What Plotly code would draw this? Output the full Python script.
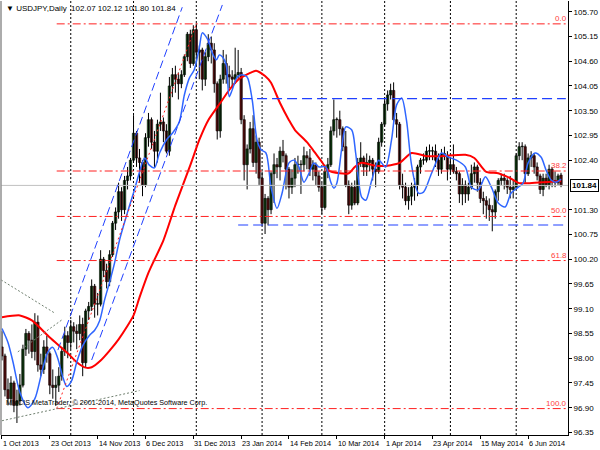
import plotly.graph_objects as go

# ---------------- data ----------------
opens = [98.25,98.05,97.30,97.10,97.45,96.95,97.05,97.40,98.20,98.55,98.40,98.15,98.80,97.85,97.75,98.25,98.10,97.40,97.35,97.40,
         97.60,98.15,98.50,98.35,98.70,98.60,98.55,98.75,97.90,99.05,99.15,99.60,99.20,99.20,100.20,99.95,99.70,100.30,101.00,101.25,
         101.70,101.30,101.95,102.05,102.40,103.00,102.45,102.35,101.85,102.90,103.30,102.80,102.60,103.20,103.25,103.05,102.60,104.05,104.30,104.20,
         104.10,104.30,104.70,105.20,104.55,105.30,104.80,104.85,104.20,104.70,105.00,104.85,104.10,103.05,104.20,104.55,104.30,104.25,104.20,104.30,
         104.35,103.30,102.30,102.65,103.10,102.35,102.80,102.00,101.00,101.55,101.30,102.10,102.30,102.25,102.60,102.50,102.20,101.80,102.00,102.30,
         102.30,102.30,102.50,102.45,102.20,102.30,102.05,101.80,101.35,102.15,102.30,103.05,103.30,103.30,103.10,102.70,101.85,101.40,101.80,101.45,
         102.35,102.45,102.25,102.35,102.40,102.20,102.15,102.80,103.20,103.65,103.85,103.95,103.30,103.20,101.85,101.80,101.50,101.60,101.80,101.85,
         102.25,102.40,102.40,102.60,102.60,102.60,102.40,102.20,102.55,102.50,102.20,102.30,102.15,102.10,101.65,101.85,101.65,101.80,102.10,102.25,
         101.90,101.55,101.50,101.40,101.30,101.25,101.70,101.95,102.00,101.95,101.80,101.75,101.80,102.50,102.70,102.70,102.10,102.45,102.50,102.25,
         102.05,101.75,102.00,101.85,102.20,101.95,101.90,102.07]
highs = [98.60,98.10,97.55,97.60,97.50,97.30,97.65,98.30,98.65,98.60,98.75,99.00,98.95,98.10,98.40,98.50,98.15,97.75,97.60,97.80,
         98.25,98.70,98.60,98.85,98.80,98.75,98.95,98.90,99.10,99.25,99.75,99.65,99.45,100.40,100.25,100.10,100.40,101.05,101.35,101.90,
         101.80,102.05,102.25,102.45,103.40,103.05,102.65,102.40,103.00,103.45,103.35,103.05,103.30,103.90,103.35,103.20,104.25,104.45,104.50,104.35,
         104.40,104.75,105.25,105.30,105.40,105.44,104.95,104.90,104.80,105.20,105.15,105.00,104.15,104.30,104.85,104.75,104.50,104.40,104.90,104.85,
         104.45,103.40,102.75,103.25,103.40,102.95,102.90,102.15,101.65,101.60,102.15,102.55,102.45,102.70,102.85,102.55,102.25,102.20,102.45,102.50,
         102.40,102.70,102.60,102.65,102.40,102.35,102.15,101.90,102.30,102.45,103.15,103.75,103.35,103.50,103.15,103.05,101.95,101.90,101.95,102.45,
         102.80,102.50,102.55,102.50,102.45,102.35,102.90,103.25,103.80,103.95,104.10,104.13,103.45,103.25,102.10,101.90,101.80,101.90,102.00,102.30,
         102.45,102.55,102.70,102.75,102.70,102.75,102.55,102.65,102.70,102.60,102.45,102.75,102.25,102.15,102.00,101.95,101.90,102.30,102.35,102.30,
         102.00,101.70,101.60,101.55,101.40,101.75,102.00,102.10,102.10,102.00,102.05,101.95,102.55,102.80,102.80,102.75,102.55,102.60,102.55,102.35,
         102.10,102.10,102.10,102.30,102.25,102.15,102.10,102.12]
lows = [97.95,97.15,96.95,96.95,96.80,96.56,96.95,97.35,98.05,98.10,98.00,97.95,97.70,97.60,97.65,97.90,97.20,97.10,96.94,97.25,
        97.50,98.05,98.00,98.20,98.35,98.20,98.40,97.60,97.80,98.85,99.05,98.90,98.95,99.15,99.80,99.55,99.60,100.25,100.85,101.10,
        101.05,101.20,101.75,101.95,102.35,102.25,101.90,101.60,101.80,102.70,102.65,102.25,102.35,103.05,102.80,102.55,102.50,103.80,103.90,103.75,
        104.00,104.25,104.60,104.45,104.50,104.50,104.20,103.95,104.05,104.60,104.55,103.90,102.86,102.90,104.10,104.10,104.00,104.00,104.10,104.20,
        103.20,101.95,101.75,102.55,102.25,102.10,101.85,100.95,100.76,100.95,101.20,101.45,102.00,101.95,102.35,101.75,101.55,101.65,101.80,102.10,
        101.65,102.15,102.20,102.05,101.95,101.85,101.70,101.20,101.30,102.00,102.25,102.95,102.90,102.95,102.60,101.80,101.20,101.30,101.40,101.40,
        102.25,102.05,102.05,102.15,101.95,101.80,102.10,102.70,103.15,103.50,103.75,103.25,102.90,101.75,101.55,101.40,101.30,101.40,101.50,101.60,
        102.10,102.30,102.35,102.40,102.40,102.25,102.05,102.10,102.40,101.95,102.10,102.10,101.95,101.45,101.40,101.45,101.50,101.75,101.90,101.70,
        101.45,101.20,101.10,101.05,100.82,101.10,101.50,101.85,101.75,101.65,101.55,101.55,101.75,102.40,102.40,101.90,102.05,102.25,102.10,101.95,
        101.65,101.60,101.80,101.75,101.80,101.80,101.85,101.80]
closes = [98.05,97.30,97.10,97.45,96.95,97.05,97.40,98.20,98.55,98.40,98.15,98.80,97.85,97.75,98.25,98.10,97.40,97.35,97.40,97.60,
          98.15,98.50,98.35,98.70,98.60,98.55,98.75,97.90,99.05,99.15,99.60,99.20,99.20,100.20,99.95,99.70,100.30,101.00,101.25,101.70,
          101.30,101.95,102.05,102.40,103.00,102.45,102.35,101.85,102.90,103.30,102.80,102.60,103.20,103.25,103.05,102.60,104.05,104.30,104.20,104.10,
          104.30,104.70,105.20,104.55,105.30,104.80,104.85,104.20,104.70,105.00,104.85,104.10,103.05,104.20,104.55,104.30,104.25,104.20,104.30,104.35,
          103.30,102.30,102.65,103.10,102.35,102.80,102.00,101.00,101.55,101.30,102.10,102.30,102.25,102.60,102.50,102.20,101.80,102.00,102.30,102.30,
          102.30,102.50,102.45,102.20,102.30,102.05,101.80,101.35,102.15,102.30,103.05,103.30,103.30,103.10,102.70,101.85,101.40,101.80,101.45,102.35,
          102.45,102.25,102.35,102.40,102.20,102.15,102.80,103.20,103.65,103.85,103.95,103.30,103.20,101.85,101.80,101.50,101.60,101.80,101.85,102.25,
          102.40,102.40,102.60,102.60,102.60,102.40,102.20,102.55,102.50,102.20,102.30,102.15,102.10,101.65,101.85,101.65,101.80,102.10,102.25,101.90,
          101.55,101.50,101.40,101.30,101.25,101.70,101.95,102.00,101.95,101.80,101.75,101.80,102.50,102.70,102.70,102.10,102.45,102.50,102.25,102.05,
          101.75,102.00,101.85,102.20,101.95,101.90,102.05,101.84]

# slow (red) moving average, read at bar positions
red_idx = [0,6,10,16,22,25,28,30,33,36,39,42,44,46,49,54,58,63,66,69,73,76,79,83,85,88,90,93,96,98,102,104,107,109,113,
           116,118,120,124,127,130,133,137,142,147,155,158,162,166,170,173,176,187]
red_val = [98.91,98.95,98.84,98.46,98.11,97.91,97.79,97.80,97.95,98.17,98.42,98.72,98.95,99.35,99.90,100.62,101.40,102.29,
           102.85,103.29,103.67,103.96,104.19,104.34,104.39,104.27,104.12,103.67,103.29,103.07,102.80,102.63,102.36,102.18,
           102.11,102.11,102.25,102.34,102.29,102.27,102.29,102.34,102.56,102.49,102.49,102.52,102.45,102.14,102.11,102.00,
           101.89,101.89,101.94]

# fast (blue) moving average, read at bar positions
blue_idx = [0,2,3.7,6,8.7,11,13.3,15.3,17,18.7,20.3,21.7,23.3,25,27,29.3,31,32.7,34.3,36,37.7,39.3,41,42.7,44.3,46,47.7,
            49.3,51,52.7,55,57,59.3,61,62.7,64.3,66,67,68.3,69.3,70.3,71.7,72.7,73.7,75,76,77,78.7,80.3,82,83.7,85.3,86.7,
            88.3,90,92,93.7,96,97.7,99.3,101,102.7,104.3,106,108.3,110,111,112,113.7,115,117,118.3,120.3,121.7,123.7,126,
            128.3,130.3,132,133.7,135.3,137,139.3,141,143.7,147,149.3,152,155,157,159.3,161.7,163.7,166,168.3,170.3,172.7,
            174.3,176,178.3,180.3,182,183.7,185.3,187]
blue_val = [98.66,98.35,97.91,97.24,96.90,97.10,97.68,98.13,98.24,97.99,97.59,97.37,97.50,97.91,98.28,98.51,98.62,98.84,
            99.29,99.69,100.13,100.62,101.02,101.40,101.74,102.14,102.45,102.29,102.23,102.56,102.85,103.00,103.25,103.85,
            104.23,104.41,104.90,105.23,105.14,105.01,104.79,104.63,104.74,104.70,104.52,103.81,103.96,104.25,104.30,104.25,
            103.74,102.85,102.63,102.56,101.80,101.33,101.67,102.34,102.40,102.25,101.91,102.11,102.34,102.25,102.25,101.91,
            101.78,101.89,102.69,103.14,103.07,102.56,101.58,101.51,101.96,102.40,102.25,102.85,103.63,103.78,103.29,102.29,
            101.67,101.69,102.11,102.56,102.47,102.40,102.25,101.80,101.74,102.03,101.80,101.45,101.36,101.67,101.80,101.89,
            102.34,102.56,102.47,102.18,101.96,101.91,101.98]

# x-axis labels (bar index of each label)
label_idx = [0,16,32,48,64,80,96,112,128,144,160,176]
label_txt = ["1 Oct 2013","23 Oct 2013","14 Nov 2013","6 Dec 2013","31 Dec 2013","23 Jan 2014",
             "14 Feb 2014","10 Mar 2014","1 Apr 2014","23 Apr 2014","15 May 2014","6 Jun 2014"]
# month separators (bar index)
grid_idx = [23,44,65,87,107,128,150,172]

# right price scale
ytick_vals = [105.70,105.15,104.60,104.05,103.50,102.95,102.40,101.30,100.75,100.20,99.65,99.10,98.55,98.00,97.45,96.90,96.35]
ytick_txt = ["105.70","105.15","104.60","104.05","103.50","102.95","102.40","101.30","100.75","100.20",
             "99.65","99.10","98.55","98.00","97.45","96.90","96.35"]
last_price = 101.84

# Fibonacci retracement
fib_start_idx = 18.3
fib_end_idx = 65
fib_prices = [105.43,102.16,101.15,100.17,96.88]
fib_labels = ["0.0","38.2","50.0","61.8","100.0"]

# horizontal blue levels: (start bar, price)
hlevel_start = [80.3,79.0]
hlevel_price = [103.77,100.96]

# blue channel lines: (x0, y0, x1, y1)
chan_lines = [(18.7,98.18,60.3,105.80),
              (30.0,97.96,73.7,105.85)]

# gray dotted lines (x0, y0, x1, y1)
gray_lines = [(-0.3,99.74,17.7,99.00),
              (0.0,96.61,46.0,97.28),
              (5.3,98.14,20.0,98.85)]

X0, X1 = -0.33, 189.33
Y0, Y1 = 96.293, 105.938

fig = go.Figure()

# candles: wicks then bodies
idx = list(range(len(opens)))
wx, wy = [], []
for i, h, l in zip(idx, highs, lows):
    wx += [i, i, None]
    wy += [l, h, None]
fig.add_trace(go.Scatter(x=wx, y=wy, mode="lines", line=dict(color="#000000", width=1),
                         hoverinfo="skip", showlegend=False))
body_base = [min(o, c) for o, c in zip(opens, closes)]
body_h = [max(abs(c - o), 0.012) for o, c in zip(opens, closes)]
body_col = ["#1e6b1e" if c >= o else "#a01c1c" for o, c in zip(opens, closes)]
fig.add_trace(go.Bar(x=idx, y=body_h, base=body_base, width=0.8,
                     marker=dict(color=body_col, line=dict(color="#000000", width=0.6)),
                     hoverinfo="skip", showlegend=False))

fig.add_trace(go.Scatter(x=red_idx, y=red_val, mode="lines",
                         line=dict(color="#ff0000", width=2, shape="spline", smoothing=0.6),
                         hoverinfo="skip", showlegend=False))
fig.add_trace(go.Scatter(x=blue_idx, y=blue_val, mode="lines",
                         line=dict(color="#2f66ff", width=1.5, shape="spline", smoothing=0.8),
                         hoverinfo="skip", showlegend=False))

# current price line
fig.add_trace(go.Scatter(x=[X0, X1], y=[last_price, last_price], mode="lines",
                         line=dict(color="#c0c0c0", width=1), hoverinfo="skip", showlegend=False))

# fibo lines
for p in fib_prices:
    fig.add_trace(go.Scatter(x=[fib_start_idx, 188.6], y=[p, p], mode="lines",
                             line=dict(color="#ff2020", width=1, dash="8px,3px,2px,3px"),
                             hoverinfo="skip", showlegend=False))
fig.add_trace(go.Scatter(x=[fib_start_idx, fib_end_idx], y=[fib_prices[-1], fib_prices[0]], mode="lines",
                         line=dict(color="#ff2020", width=1, dash="2px,3px"),
                         hoverinfo="skip", showlegend=False))

# blue levels
for s, p in zip(hlevel_start, hlevel_price):
    fig.add_trace(go.Scatter(x=[s, 188.6], y=[p, p], mode="lines",
                             line=dict(color="#2040ff", width=1.2, dash="10px,5px"),
                             hoverinfo="skip", showlegend=False))
for (a, b, c, d) in chan_lines:
    fig.add_trace(go.Scatter(x=[a, c], y=[b, d], mode="lines",
                             line=dict(color="#2040ff", width=1, dash="8px,4px"),
                             hoverinfo="skip", showlegend=False))
for (a, b, c, d) in gray_lines:
    fig.add_trace(go.Scatter(x=[a, c], y=[b, d], mode="lines",
                             line=dict(color="#708070", width=1, dash="2px,2px"),
                             hoverinfo="skip", showlegend=False))

shapes = []
for g in grid_idx:
    shapes.append(dict(type="line", xref="x", yref="paper", x0=g, x1=g, y0=0, y1=1,
                       line=dict(color="#000000", width=1, dash="2px,2px"), layer="below"))
shapes.append(dict(type="line", xref="paper", yref="paper", x0=0, x1=0, y0=0, y1=1,
                   line=dict(color="#909090", width=1.5)))

annotations = []
for i, t in zip(label_idx, label_txt):
    annotations.append(dict(x=i, y=0, xref="x", yref="paper", text=t, showarrow=False,
                            xanchor="left", yanchor="top", yshift=-2, xshift=-1,
                            font=dict(family="Liberation Sans", size=7.3, color="#000")))
for p, t in zip(fib_prices, fib_labels):
    annotations.append(dict(x=1.0, y=p, xref="paper", yref="y", text=t, showarrow=False,
                            xanchor="right", yanchor="bottom", yshift=-1, xshift=1,
                            font=dict(family="Liberation Sans", size=8, color="#ff4040")))
annotations.append(dict(x=1.004, y=last_price, xref="paper", yref="y", text="<b>101.84</b>", showarrow=False,
                        xanchor="left", yanchor="middle", bgcolor="#ffffff", bordercolor="#000000",
                        borderwidth=1, borderpad=1, font=dict(family="Liberation Sans", size=8, color="#000")))
annotations.append(dict(x=0.005, y=0.997, xref="paper", yref="paper",
                        text="\u25BC USDJPY,Daily  102.07 102.12 101.80 101.84", showarrow=False,
                        xanchor="left", yanchor="top",
                        font=dict(family="Liberation Sans", size=8, color="#000")))
annotations.append(dict(x=0.006, y=0.075, xref="paper", yref="paper",
                        text="MMCIS MetaTrader, \u00A9 2001-2014, MetaQuotes Software Corp.", showarrow=False,
                        xanchor="left", yanchor="middle",
                        font=dict(family="Liberation Sans", size=7.2, color="#000")))

fig.update_layout(
    width=600, height=450,
    margin=dict(l=1, r=30, t=1, b=15),
    paper_bgcolor="#ffffff", plot_bgcolor="#ffffff",
    showlegend=False, hovermode=False, bargap=0,
    shapes=shapes, annotations=annotations,
    xaxis=dict(range=[X0, X1], showgrid=False, zeroline=False,
               tickvals=label_idx, ticktext=[""] * len(label_idx), ticks="outside", ticklen=3,
               tickcolor="#000", showline=True, linecolor="#000", linewidth=1),
    yaxis=dict(range=[Y0, Y1], side="right", showgrid=False, zeroline=False,
               tickvals=ytick_vals, ticktext=ytick_txt, ticks="outside", ticklen=3, tickcolor="#000",
               showline=True, linecolor="#000", linewidth=1,
               tickfont=dict(family="Liberation Sans", size=8, color="#000")),
)

fig.write_html("out.html", config={"displayModeBar": False, "staticPlot": True},
               post_script="document.body.style.margin='0';document.body.style.padding='0';")
